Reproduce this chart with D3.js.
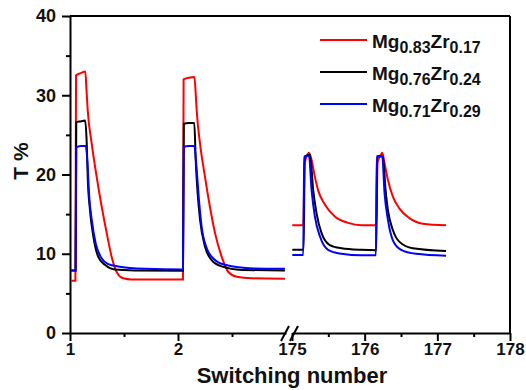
<!DOCTYPE html>
<html>
<head>
<meta charset="utf-8">
<script src="https://cdn.jsdelivr.net/npm/d3@7"></script>
<style>
  body { margin: 0; background: #fff; }
  svg { font-family: "Liberation Sans", Arial, sans-serif; font-weight: bold; }
</style>
</head>
<body>
<div id="chart"></div>
<script>
// switching cycles 1-3 (left part of the broken axis)
var redA = [[1.01,6.6],[1.05,6.6],[1.056,32.5],[1.10,32.8],[1.142,33.0],[1.152,30.8],[1.164,28.1],[1.201,23.9],[1.247,19.7],
  [1.294,15.9],[1.34,12.6],[1.386,9.6],[1.432,7.7],[1.494,6.9],[1.571,6.75],[1.8,6.75],[2.046,6.75],[2.052,32.0],
  [2.10,32.2],[2.152,32.3],[2.164,30.2],[2.173,28.1],[2.204,23.9],[2.25,19.7],[2.296,15.9],[2.343,12.6],[2.405,9.6],
  [2.466,7.7],[2.543,7.1],[2.682,6.9],[2.99,6.85]];
var blackA = [[1.01,7.9],[1.052,7.9],[1.058,26.6],[1.10,26.7],[1.14,26.8],[1.155,23.9],[1.164,19.7],[1.185,15.5],
  [1.216,12.2],[1.262,9.6],[1.324,8.6],[1.417,8.0],[1.6,7.9],[2.046,7.85],[2.054,26.4],[2.10,26.5],[2.151,26.5],
  [2.164,21.8],[2.182,17.6],[2.204,14.3],[2.25,10.9],[2.312,9.2],[2.405,8.4],[2.59,7.95],[2.99,7.9]];
var blueA = [[1.01,7.9],[1.052,7.9],[1.058,23.4],[1.10,23.6],[1.145,23.6],[1.164,21.0],[1.176,17.6],[1.201,14.3],
  [1.238,11.3],[1.294,9.4],[1.355,8.7],[1.447,8.4],[1.7,8.1],[2.046,8.0],[2.054,23.5],[2.10,23.6],[2.151,23.6],
  [2.173,20.6],[2.194,16.8],[2.219,13.4],[2.266,10.7],[2.327,9.4],[2.435,8.6],[2.7,8.15],[2.99,8.1]];

// switching cycles 175-177 (right part)
var redB = [[175.004,13.6],[175.155,13.6],[175.175,21.5],[175.22,22.6],[175.233,22.75],[175.27,21.8],[175.315,19.7],
  [175.36,18.0],[175.452,16.2],[175.589,14.7],[175.771,13.9],[175.955,13.6],[176.16,13.6],[176.178,21.5],[176.23,22.6],
  [176.242,22.75],[176.274,21.4],[176.32,19.3],[176.388,17.2],[176.479,15.7],[176.616,14.5],[176.8,13.8],[177.12,13.6]];
var blackB = [[175.004,10.5],[175.16,10.5],[175.175,22.3],[175.247,22.5],[175.292,18.0],[175.338,15.1],[175.407,12.6],
  [175.52,11.1],[175.681,10.7],[175.955,10.5],[176.16,10.45],[176.172,22.3],[176.25,22.3],[176.288,18.0],[176.32,15.5],
  [176.388,13.0],[176.479,11.5],[176.662,10.7],[177.12,10.35]];
var blueB = [[175.004,9.85],[175.155,9.85],[175.168,22.2],[175.233,22.4],[175.27,18.0],[175.315,14.7],[175.384,12.2],
  [175.497,10.5],[175.681,10.0],[175.955,9.8],[176.155,9.8],[176.165,22.3],[176.242,22.3],[176.274,17.6],[176.32,14.3],
  [176.388,11.7],[176.502,10.5],[176.708,10.0],[177.12,9.75]];

var seriesNames = [["Mg", "0.83", "Zr", "0.17"], ["Mg", "0.76", "Zr", "0.24"], ["Mg", "0.71", "Zr", "0.29"]];
var seriesColors = ["#ff0000", "#000000", "#0000ff"];

var yTicks = [0, 10, 20, 30, 40];
var yMinor = [5, 15, 25, 35];
var xTicksA = [1, 2];
var xMinorA = [1.5, 2.5];
var xTicksB = [175, 176, 177, 178];
var xMinorB = [175.5, 176.5, 177.5];

var width = 526, height = 390;

var svg = d3.select('#chart')
  .append('svg')
  .attr('width', width)
  .attr('height', height);

var y = d3.scaleLinear().domain([0, 40]).range([333, 16]);
var xA = d3.scaleLinear().domain([1, 3]).range([70, 286]);
var xB = d3.scaleLinear().domain([175, 178]).range([292, 510]);

function styleAxis(g) {
  g.selectAll('path, line').attr('stroke-width', 2);
  g.selectAll('text').attr('font-size', 17).attr('font-family', '"Liberation Sans", Arial, sans-serif')
    .attr('font-weight', 'bold').attr('fill', '#111');
}

// frame (top and right)
svg.append('line')
  .attr('x1', xA(1)).attr('x2', xB(178))
  .attr('y1', y(40)).attr('y2', y(40))
  .attr('stroke', '#000').attr('stroke-width', 2);
svg.append('line')
  .attr('x1', xB(178)).attr('x2', xB(178))
  .attr('y1', y(40)).attr('y2', y(0))
  .attr('stroke', '#000').attr('stroke-width', 2);

// y axis
svg.append('g')
  .attr('transform', 'translate(' + xA(1) + ',0)')
  .call(d3.axisLeft(y).tickValues(yTicks).tickSize(8).tickSizeOuter(0).tickPadding(6))
  .call(styleAxis)
  .selectAll('text').attr('font-size', 18);
svg.append('g')
  .attr('transform', 'translate(' + xA(1) + ',0)')
  .call(d3.axisLeft(y).tickValues(yMinor).tickSize(4).tickSizeOuter(0).tickFormat(''))
  .call(styleAxis)
  .select('.domain').remove();

// x axis, two pieces
svg.append('g')
  .attr('transform', 'translate(0,' + y(0) + ')')
  .call(d3.axisBottom(xA).tickValues(xTicksA).tickSize(8).tickSizeOuter(0).tickPadding(2).tickFormat(d3.format('d')))
  .call(styleAxis);
svg.append('g')
  .attr('transform', 'translate(0,' + y(0) + ')')
  .call(d3.axisBottom(xA).tickValues(xMinorA).tickSize(4).tickSizeOuter(0).tickFormat(''))
  .call(styleAxis)
  .select('.domain').remove();
svg.append('g')
  .attr('transform', 'translate(0,' + y(0) + ')')
  .call(d3.axisBottom(xB).tickValues(xTicksB).tickSize(8).tickSizeOuter(0).tickPadding(2).tickFormat(d3.format('d')))
  .call(styleAxis);
svg.append('g')
  .attr('transform', 'translate(0,' + y(0) + ')')
  .call(d3.axisBottom(xB).tickValues(xMinorB).tickSize(4).tickSizeOuter(0).tickFormat(''))
  .call(styleAxis)
  .select('.domain').remove();

// break marks "//"
svg.selectAll('.brk')
  .data([xA(3) - 1, xB(175) + 2])
  .enter().append('line')
  .attr('class', 'brk')
  .attr('x1', function(d) { return d - 4; })
  .attr('x2', function(d) { return d + 4; })
  .attr('y1', y(0) + 8)
  .attr('y2', y(0) - 7)
  .attr('stroke', '#000')
  .attr('stroke-width', 2);

// curves
var lineA = d3.line()
  .x(function(d) { return xA(d[0]); })
  .y(function(d) { return y(d[1]); })
  .curve(d3.curveMonotoneX);
var lineB = d3.line()
  .x(function(d) { return xB(d[0]); })
  .y(function(d) { return y(d[1]); })
  .curve(d3.curveMonotoneX);

var segA = [redA, blackA, blueA];
var segB = [redB, blackB, blueB];

svg.selectAll('.curveA')
  .data(segA)
  .enter().append('path')
  .attr('class', 'curveA')
  .attr('d', lineA)
  .attr('fill', 'none')
  .attr('stroke', function(d, i) { return seriesColors[i]; })
  .attr('stroke-width', 2);

svg.selectAll('.curveB')
  .data(segB)
  .enter().append('path')
  .attr('class', 'curveB')
  .attr('d', lineB)
  .attr('fill', 'none')
  .attr('stroke', function(d, i) { return seriesColors[i]; })
  .attr('stroke-width', 2);

// legend
var legend = svg.selectAll('.legend')
  .data(seriesNames)
  .enter().append('g')
  .attr('class', 'legend')
  .attr('transform', function(d, i) { return 'translate(320,' + (40 + i * 32) + ')'; });

legend.append('line')
  .attr('x1', 0).attr('x2', 47)
  .attr('y1', 0).attr('y2', 0)
  .attr('stroke', function(d, i) { return seriesColors[i]; })
  .attr('stroke-width', 2);

var ltext = legend.append('text')
  .attr('x', 52)
  .attr('y', 8)
  .attr('fill', '#111');
ltext.append('tspan').attr('font-size', 19).text(function(d) { return d[0]; });
ltext.append('tspan').attr('font-size', 16).attr('dy', 5).text(function(d) { return d[1]; });
ltext.append('tspan').attr('font-size', 19).attr('dy', -5).text(function(d) { return d[2]; });
ltext.append('tspan').attr('font-size', 16).attr('dy', 5).text(function(d) { return d[3]; });

// axis titles
svg.append('text')
  .attr('x', 292)
  .attr('y', 383)
  .attr('text-anchor', 'middle')
  .attr('font-size', 22)
  .attr('fill', '#111')
  .text('Switching number');

svg.append('text')
  .attr('transform', 'translate(28,161) rotate(-90)')
  .attr('text-anchor', 'middle')
  .attr('font-size', 21)
  .attr('fill', '#111')
  .text('T %');
</script>
</body>
</html>
